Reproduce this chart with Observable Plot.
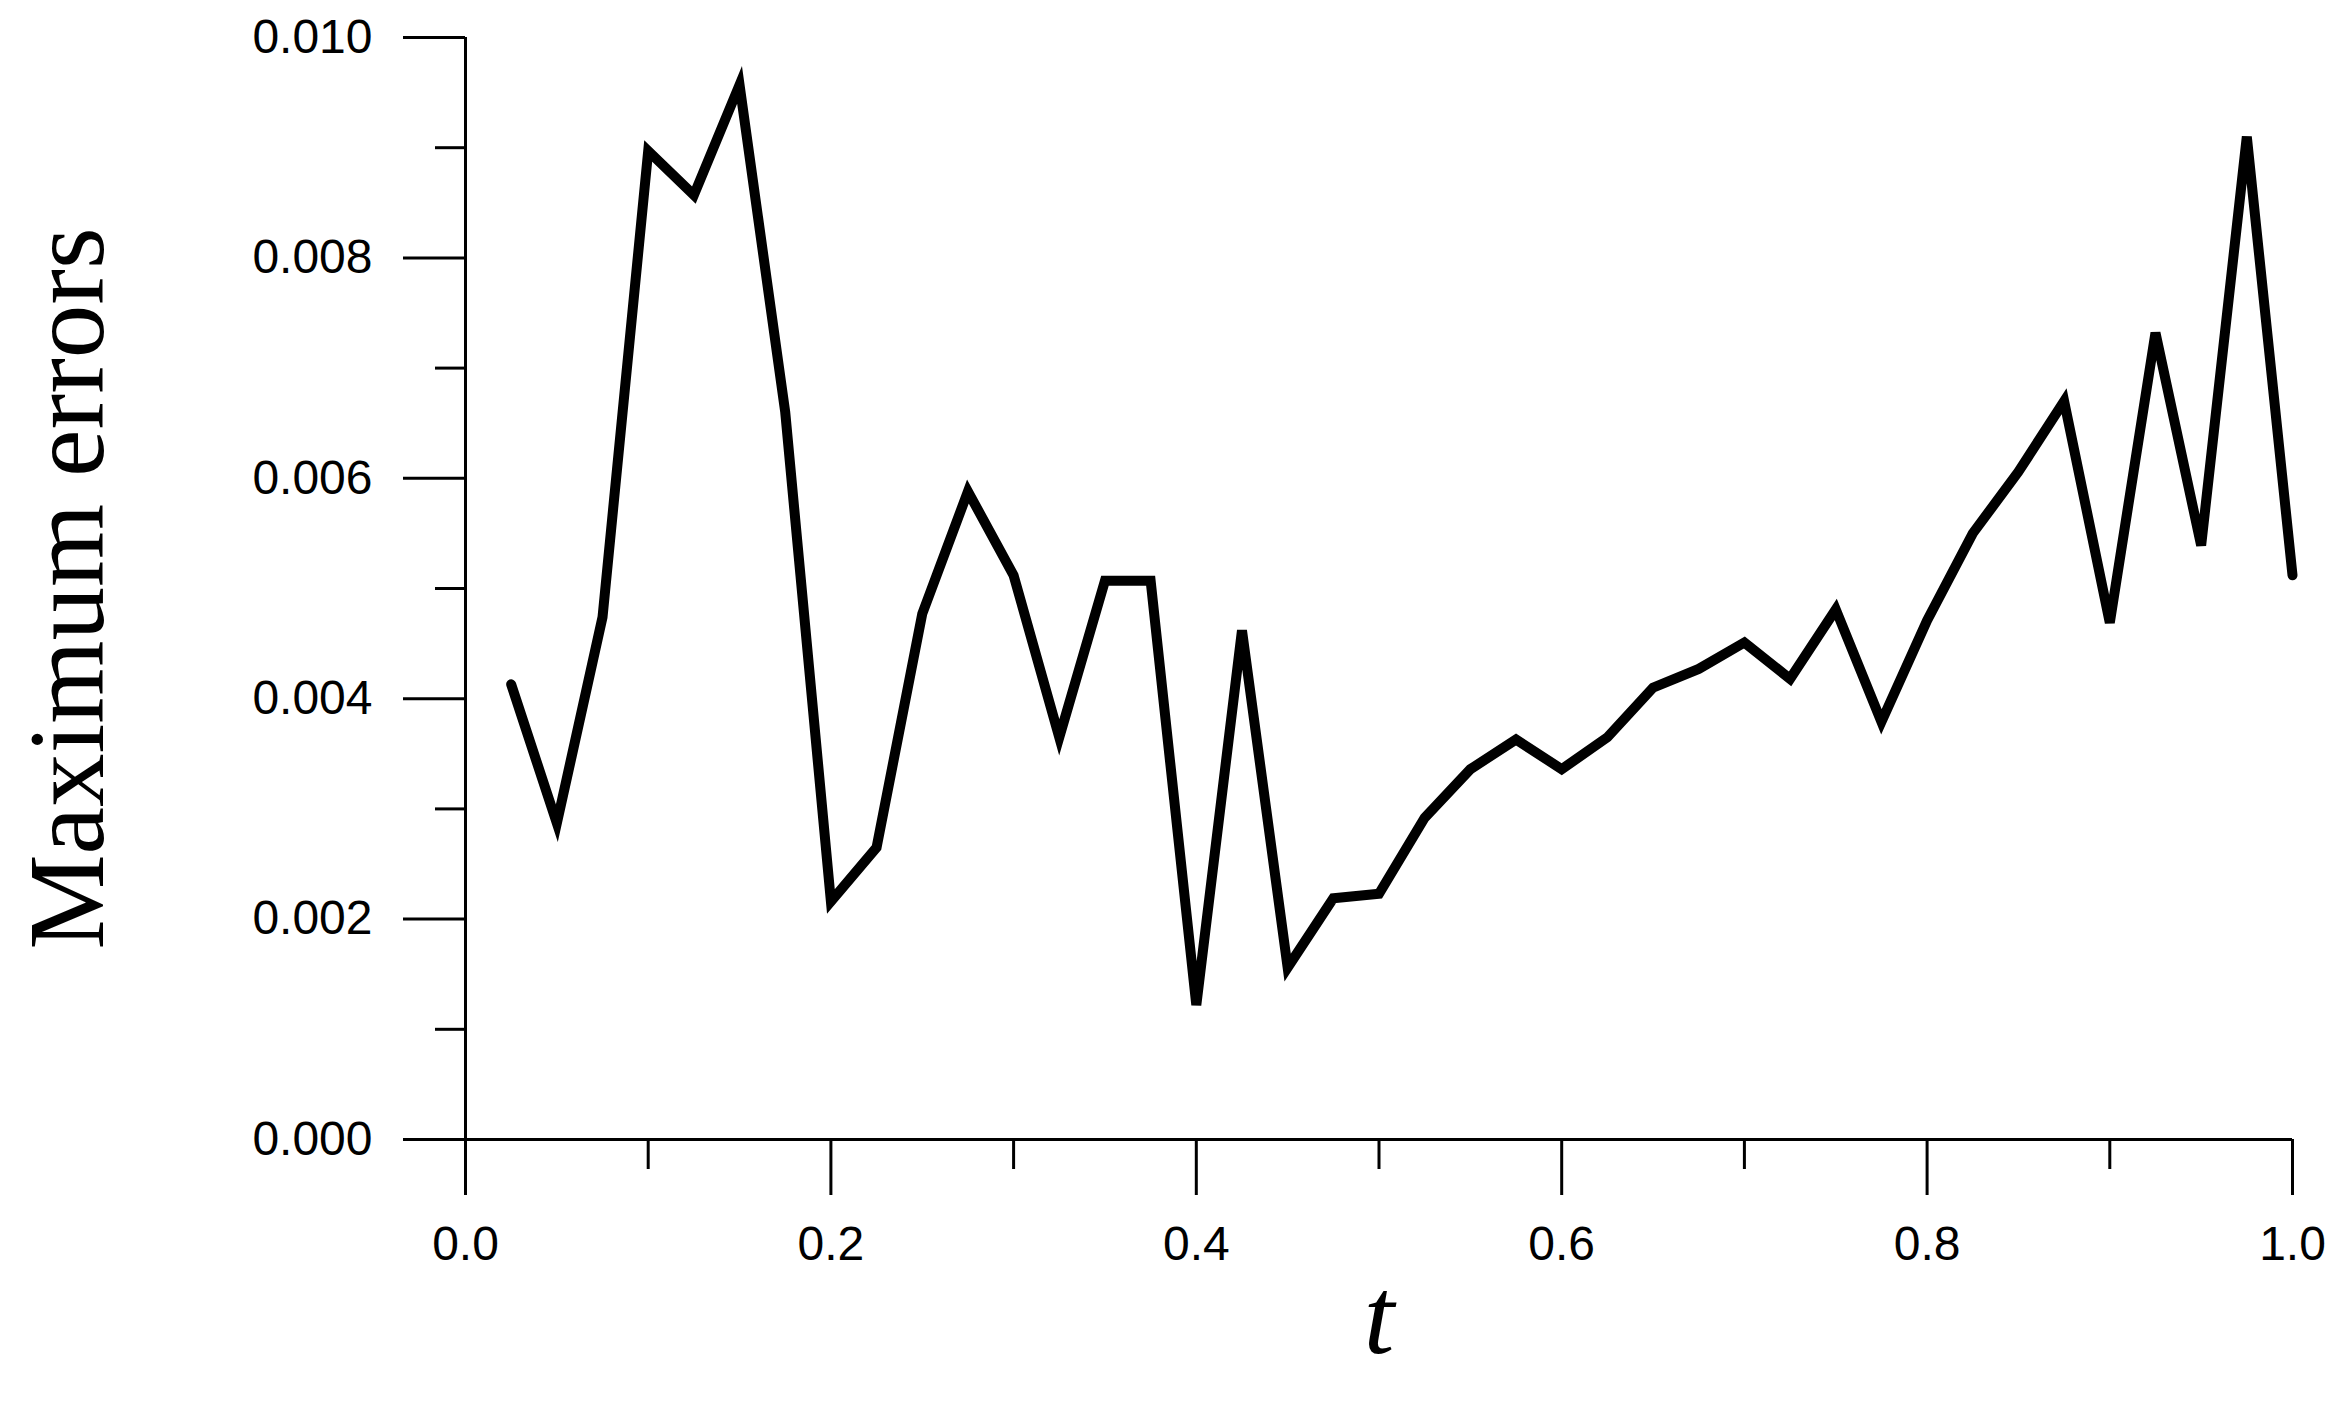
<!DOCTYPE html>
<html>
<head>
<meta charset="utf-8">
<script src="https://cdn.jsdelivr.net/npm/d3@7"></script>
<script src="https://cdn.jsdelivr.net/npm/@observablehq/plot@0.6"></script>
<style>
  html, body { margin: 0; padding: 0; background: #ffffff; }
  #chart svg { display: block; }
</style>
</head>
<body>
<div id="chart"></div>
<script>
// Time values t
const tValues = [0.025, 0.05, 0.075, 0.1, 0.125, 0.15, 0.175, 0.2, 0.225, 0.25,
  0.275, 0.3, 0.325, 0.35, 0.375, 0.4, 0.425, 0.45, 0.475, 0.5,
  0.525, 0.55, 0.575, 0.6, 0.625, 0.65, 0.675, 0.7, 0.725, 0.75,
  0.775, 0.8, 0.825, 0.85, 0.875, 0.9, 0.925, 0.95, 0.975, 1.0];
// Maximum errors
const maxErrors = [0.00413, 0.00287, 0.00474, 0.00897, 0.00857, 0.00957, 0.00660, 0.00216, 0.00265, 0.00477,
  0.00588, 0.00512, 0.00365, 0.00507, 0.00507, 0.00122, 0.00462, 0.00156, 0.00219, 0.00223,
  0.00292, 0.00336, 0.00363, 0.00336, 0.00365, 0.00410, 0.00427, 0.00451, 0.00418, 0.00481,
  0.00379, 0.00471, 0.00550, 0.00606, 0.00670, 0.00469, 0.00732, 0.00539, 0.00910, 0.00512];
// Axis ticks
const xMajorTicks = [0, 0.2, 0.4, 0.6, 0.8, 1.0];
const xMinorTicks = [0.1, 0.3, 0.5, 0.7, 0.9];
const yMajorTicks = [0, 0.002, 0.004, 0.006, 0.008, 0.010];
const yMinorTicks = [0.001, 0.003, 0.005, 0.007, 0.009];
const xLabel = "t";
const yLabel = "Maximum errors";

const rows = tValues.map((t, i) => ({t, e: maxErrors[i]}));

const chart = Plot.plot({
  width: 2347,
  height: 1409,
  marginLeft: 465,
  marginRight: 55,
  marginTop: 37,
  marginBottom: 270,
  x: {domain: [0, 1]},
  y: {domain: [0, 0.01]},
  style: {fontFamily: "'Liberation Sans', Arial, sans-serif", background: "#ffffff", color: "#000000"},
  marks: [
    Plot.axisY(yMajorTicks, {tickSize: 62, tickPadding: 31, tickFormat: d3.format(".3f"), fontSize: 48, strokeWidth: 3, stroke: "#000", fill: "#000", label: null}),
    Plot.axisY(yMinorTicks, {tickSize: 30, tickFormat: () => "", strokeWidth: 3, stroke: "#000", label: null}),
    Plot.axisX(xMajorTicks, {tickSize: 56, tickPadding: 30, tickFormat: d3.format(".1f"), fontSize: 48, strokeWidth: 3, stroke: "#000", fill: "#000", label: null}),
    Plot.axisX(xMinorTicks, {tickSize: 30, tickFormat: () => "", strokeWidth: 3, stroke: "#000", label: null}),
    Plot.ruleX([0], {y1: 0, y2: 0.01, strokeWidth: 3, stroke: "#000"}),
    Plot.ruleY([0], {x1: 0, x2: 1, strokeWidth: 3, stroke: "#000"}),
    Plot.line(rows, {x: "t", y: "e", stroke: "#000", strokeWidth: 10, strokeLinejoin: "miter", strokeMiterlimit: 4}),
    Plot.text([yLabel], {frameAnchor: "left", dx: -397, rotate: -90, fontSize: 107, fontFamily: "'Liberation Serif', 'Times New Roman', serif", fill: "#000", lineAnchor: "middle", textAnchor: "middle"}),
    Plot.text([xLabel], {frameAnchor: "bottom", dy: 178, fontSize: 110, fontStyle: "italic", fontFamily: "'Liberation Serif', 'Times New Roman', serif", fill: "#000", lineAnchor: "middle", textAnchor: "middle"})
  ]
});
document.getElementById("chart").appendChild(chart);
</script>
</body>
</html>
